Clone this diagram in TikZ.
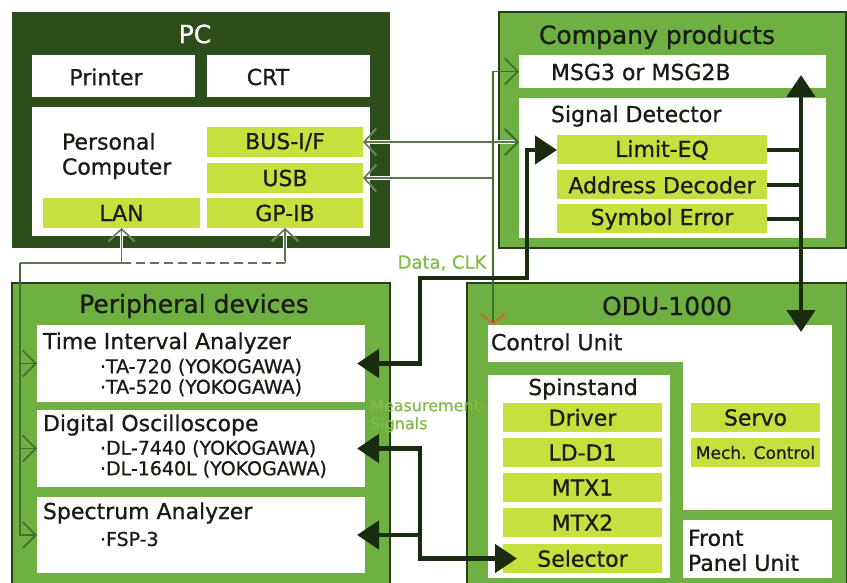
\documentclass[tikz,border=0pt]{standalone}
\usepackage{fontspec}
\setmainfont{DejaVu Sans}[FakeBold=0.8]
\usepackage{tikz}
\usetikzlibrary{arrows.meta}

\definecolor{pcdark}{RGB}{44,78,26}
\definecolor{framegreen}{RGB}{110,176,66}
\definecolor{edgedark}{RGB}{38,64,22}
\definecolor{limegreen}{RGB}{200,224,62}
\definecolor{heavyline}{RGB}{26,44,16}
\definecolor{lineg}{RGB}{62,112,44}
\definecolor{pcwireg}{RGB}{96,118,84}
\definecolor{labelg}{RGB}{128,190,72}
\definecolor{tipred}{RGB}{222,96,52}
\definecolor{textdark}{RGB}{24,28,20}

\begin{document}
\begin{tikzpicture}[x=1pt,y=-1pt,
  every node/.style={inner sep=0pt, outer sep=0pt, text=textdark},
  frame/.style={fill=framegreen, draw=edgedark, line width=1.6pt},
  whitebox/.style={fill=white},
  limebox/.style={fill=limegreen, font=\fontsize{22}{25}\selectfont},
  titletxt/.style={font=\fontsize{25}{28}\selectfont},
  bodytxt/.style={font=\fontsize{22}{25}\selectfont, align=left},
  itemtxt/.style={font=\fontsize{19}{20.5}\selectfont, align=left},
  gline/.style={draw=lineg, line width=1.2pt},
  gtip/.style={-{Straight Barb[length=13pt,width=26pt,line width=1.6pt]}},
  pcwire/.style={draw=pcwireg, line width=1.2pt, preaction={draw=white, line width=3.6pt}},
  pctip/.style={{Straight Barb[length=12pt,width=26pt,line width=1.6pt]}-},
  heavy/.style={draw=heavyline, line width=4.5pt},
  bothtip/.style={arrows={Triangle[length=22pt,width=28pt]-Triangle[length=22pt,width=28pt]}},
  endtip/.style={arrows={-Triangle[length=22pt,width=28pt]}}]

  \useasboundingbox (0,0) rectangle (847,583);
  \clip (0,0) rectangle (847,583);
  \fill[white] (0,0) rectangle (847,583);

  % PC
  \fill[pcdark] (12,12) rectangle (390,248);
  \node[titletxt, text=white] (pctitle) at (195,34) {PC};
  \node[whitebox, minimum width=163pt, minimum height=42pt] (printer) at (113.5,76) {};
  \node[whitebox, minimum width=163pt, minimum height=42pt] (crt) at (288.5,76) {};
  \node[bodytxt] (printertxt) at (106,77) {Printer};
  \node[bodytxt] (crttxt) at (268,77) {CRT};
  \node[whitebox, minimum width=338pt, minimum height=129pt] (pcmain) at (201,171.5) {};
  \node[bodytxt, anchor=west] (pctxt) at (62,156) {Personal\\Computer};
  \node[limebox, minimum width=156pt, minimum height=30pt] (bus) at (285,142) {BUS-I/F};
  \node[limebox, minimum width=156pt, minimum height=30pt] (usb) at (285,178) {USB};
  \node[limebox, minimum width=157pt, minimum height=30pt] (lan) at (121.5,213) {LAN};
  \node[limebox, minimum width=156pt, minimum height=30pt] (gpib) at (285,213) {GP-IB};

  % Company products
  \filldraw[frame] (499,12) rectangle (846,248);
  \node[titletxt] (comptitle) at (657,37) {Company products};
  \node[whitebox, minimum width=307pt, minimum height=33pt] (msg) at (672.5,71.5) {};
  \node[bodytxt, anchor=west] (msgtxt) at (551,72) {MSG3 or MSG2B};
  \node[whitebox, minimum width=307pt, minimum height=140pt] (sdet) at (672.5,168) {};
  \node[bodytxt, anchor=west] (sdettxt) at (551,116) {Signal Detector};
  \node[limebox, minimum width=210pt, minimum height=29pt] (limit) at (662,150) {Limit-EQ};
  \node[limebox, minimum width=210pt, minimum height=29pt] (addr) at (662,185) {Address Decoder};
  \node[limebox, minimum width=210pt, minimum height=29pt] (symb) at (662,219) {Symbol Error};

  % Peripheral devices
  \filldraw[frame] (12,283) rectangle (390,600);
  \node[titletxt] (peritile) at (194,306) {Peripheral devices};
  \node[whitebox, minimum width=328pt, minimum height=77pt] (tia) at (201,363.5) {};
  \node[whitebox, minimum width=328pt, minimum height=77pt] (dso) at (201,448.5) {};
  \node[whitebox, minimum width=328pt, minimum height=76pt] (spa) at (201,535) {};
  \node[bodytxt, anchor=west] (tiatxt) at (43,343) {Time Interval Analyzer};
  \node[itemtxt, anchor=west] (tiaitems) at (100,377.5) {·TA-720 (YOKOGAWA)\\·TA-520 (YOKOGAWA)};
  \node[bodytxt, anchor=west] (dsotxt) at (43,425) {Digital Oscilloscope};
  \node[itemtxt, anchor=west] (dsoitems) at (100,459) {·DL-7440 (YOKOGAWA)\\·DL-1640L (YOKOGAWA)};
  \node[bodytxt, anchor=west] (spatxt) at (43,513) {Spectrum Analyzer};
  \node[itemtxt, anchor=west] (spaitems) at (100,539) {·FSP-3};

  % ODU-1000
  \filldraw[frame] (467,283) rectangle (847,600);
  \node[titletxt] (odutitle) at (667,306) {ODU-1000};
  \node[whitebox, minimum width=344pt, minimum height=37pt] (cu) at (660,343.5) {};
  \fill[white] (683,361) rectangle (832,510);
  \node[bodytxt, anchor=west] (cutxt) at (491,342) {Control Unit};
  \node[whitebox, minimum width=182pt, minimum height=203pt] (spin) at (579,476.5) {};
  \node[bodytxt] (spintxt) at (583,389) {Spinstand};
  \node[limebox, minimum width=159pt, minimum height=29pt] (driver) at (582.5,417.5) {Driver};
  \node[limebox, minimum width=159pt, minimum height=29pt] (ldd) at (582.5,452.5) {LD-D1};
  \node[limebox, minimum width=159pt, minimum height=29pt] (mtxa) at (582.5,487.5) {MTX1};
  \node[limebox, minimum width=159pt, minimum height=29pt] (mtxb) at (582.5,522.5) {MTX2};
  \node[limebox, minimum width=159pt, minimum height=29pt] (sel) at (582.5,558.5) {Selector};
  \node[limebox, minimum width=129pt, minimum height=29pt] (servo) at (755.5,417.5) {Servo};
  \node[limebox, minimum width=129pt, minimum height=29pt, font=\fontsize{17}{20}\selectfont] (mech) at (755.5,452.5) {Mech. Control};
  \node[whitebox, minimum width=149pt, minimum height=58pt] (fpu) at (757.5,549) {};
  \node[bodytxt, anchor=west] (fputxt) at (688,550.5) {Front\\Panel Unit};

  % thin wires
  \coordinate (gjoin) at (493,71.5);
  \coordinate (pbus) at (20,263);
  \draw[pcwire, arrows={Straight Barb[length=12pt,width=26pt,line width=1.6pt]-Straight Barb[length=13pt,width=26pt,line width=1.6pt,color=lineg]}] (bus.east) -- (bus.east -| sdet.west);
  \draw[pcwire, pctip] (usb.east) -- (usb.east -| gjoin);
  \draw[gline, gtip] (gjoin) -- (msg.west);
  \draw[gline, -{Straight Barb[length=10pt,width=24pt,line width=2pt,color=tipred]}] (gjoin) -- (gjoin |- cu.north);
  \draw[pcwire, pctip] (lan.south) |- (pbus);
  \draw[pcwire, pctip] (gpib.south) -- (gpib.south |- pbus);
  \draw[pcwire, dash pattern=on 9pt off 5pt] (lan.south |- pbus) -- (gpib.south |- pbus);
  \draw[gline, gtip] (pbus) |- (spa.west);
  \draw[gline, gtip] (pbus |- tia.west) -- (tia.west);
  \draw[gline, gtip] (pbus |- dso.west) -- (dso.west);

  % heavy signal lines
  \coordinate (dk1) at (420,278);
  \coordinate (dk2) at (527,278);
  \coordinate (ms1) at (420,558.5);
  \coordinate (hv1) at (801,75);
  \coordinate (hv2) at (801,332);
  \draw[heavy, bothtip, shorten <=-8pt] (tia.east) -| (dk1) -- (dk2) |- (limit.west);
  \draw[heavy, bothtip, shorten <=-8pt, shorten >=-14pt] (dso.east) -| (ms1) -- (sel.west);
  \draw[heavy, endtip, shorten >=-8pt] (ms1 |- spa.east) -- (spa.east);
  \draw[heavy, bothtip] (hv1) -- (hv2);
  \draw[heavy] (limit.east) -- (limit.east -| hv1);
  \draw[heavy] (addr.east) -- (addr.east -| hv1);
  \draw[heavy] (symb.east) -- (symb.east -| hv1);

  % labels
  \node[text=labelg, font=\fontsize{18}{20}\selectfont] (dclk) at (442,263) {Data, CLK};
  \node[text=labelg, font=\fontsize{16}{18}\selectfont, align=left, anchor=west] (meas) at (370,416) {Measurement-\\Signals};
\end{tikzpicture}
\end{document}
